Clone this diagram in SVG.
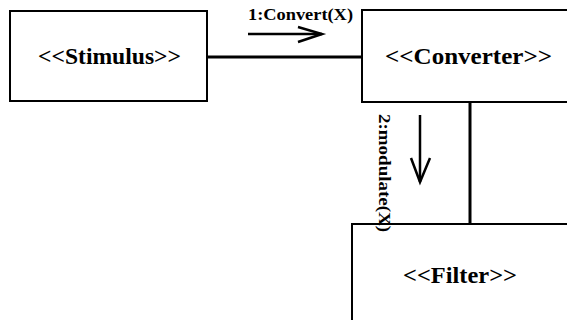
<svg xmlns="http://www.w3.org/2000/svg" width="567" height="320" viewBox="0 0 567 320">
  <style>
    .box { fill: #fff; stroke: #000; stroke-width: 2; }
    .link { stroke: #000; stroke-width: 3; fill: none; }
    .msg { stroke: #000; stroke-width: 2.5; fill: none; stroke-linejoin: miter; }
    text { font-family: 'Liberation Serif', 'DejaVu Serif', serif; font-weight: bold; fill: #000; }
    .name { font-size: 23px; }
    .label { font-size: 16px; }
  </style>
  <rect width="567" height="320" fill="#fff"/>

  <!-- associations between the objects -->
  <g id="connectors">
    <line class="link" x1="207" y1="57" x2="362" y2="57"/>
    <line class="link" x1="470" y1="102" x2="470" y2="224"/>
  </g>

  <g id="stimulus">
    <rect class="box" x="10" y="11" width="197" height="90"/>
    <text class="name" x="38" y="64" textLength="143" lengthAdjust="spacingAndGlyphs">&lt;&lt;Stimulus&gt;&gt;</text>
  </g>

  <g id="converter">
    <rect class="box" x="362" y="10" width="220" height="92"/>
    <text class="name" x="385" y="64" textLength="167" lengthAdjust="spacingAndGlyphs">&lt;&lt;Converter&gt;&gt;</text>
  </g>

  <g id="filter">
    <rect class="box" x="352" y="224" width="230" height="110"/>
    <text class="name" x="403" y="283" textLength="114" lengthAdjust="spacingAndGlyphs">&lt;&lt;Filter&gt;&gt;</text>
  </g>

  <!-- message 1 -->
  <g id="msg-convert">
    <text class="label" x="248" y="20" textLength="105" lengthAdjust="spacingAndGlyphs">1:Convert(X)</text>
    <line class="msg" x1="248" y1="34" x2="322" y2="34"/>
    <polyline class="msg" points="298,27 322,34 298,42"/>
  </g>

  <!-- message 2 -->
  <g id="msg-modulate">
    <text class="label" transform="translate(379,114) rotate(90)" x="0" y="0" textLength="118" lengthAdjust="spacingAndGlyphs">2:modulate(X)</text>
    <line class="msg" x1="420" y1="115" x2="420" y2="182"/>
    <polyline class="msg" points="411,158 420,182 430,158"/>
  </g>
</svg>
